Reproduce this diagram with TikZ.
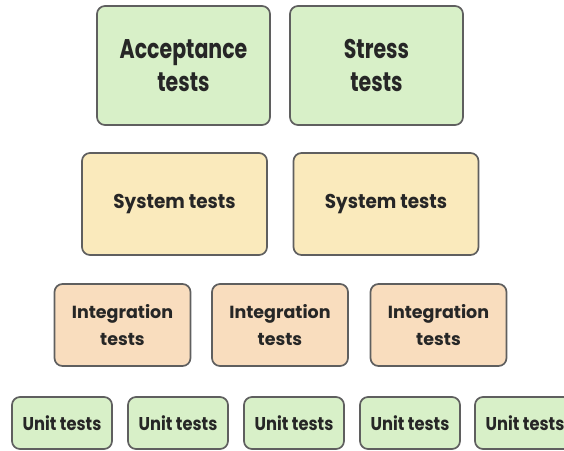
\documentclass[tikz,border=0pt]{standalone}
\usepackage{fontspec}
\setmainfont{Poppins}
\newfontfamily\topfont{Poppins}[FakeStretch=0.76]
\newfontfamily\sysfont{Poppins}[FakeStretch=0.92]
\newfontfamily\unitfont{Poppins}[FakeStretch=0.88]

\definecolor{topgreen}{RGB}{216,240,200}
\definecolor{sysyellow}{RGB}{250,234,188}
\definecolor{intpeach}{RGB}{249,221,190}
\definecolor{edgegray}{RGB}{95,95,95}

\begin{document}
\begin{tikzpicture}[x=1pt, y=-1pt,
    testbox/.style={draw=edgegray, line width=1.7pt, rounded corners=8pt,
      align=center, text=black!85, inner sep=0pt},
    toplevel/.style={testbox, fill=topgreen, minimum width=173pt, minimum height=119pt,
      font=\topfont\bfseries\fontsize{27}{33}\selectfont},
    syslevel/.style={testbox, fill=sysyellow, minimum width=185pt, minimum height=102pt,
      font=\sysfont\bfseries\fontsize{20}{25}\selectfont},
    intlevel/.style={testbox, fill=intpeach, minimum width=136pt, minimum height=82pt,
      font=\bfseries\fontsize{17.5}{27}\selectfont},
    unitlevel/.style={testbox, fill=topgreen, minimum width=100pt, minimum height=52pt,
      font=\unitfont\bfseries\fontsize{18.5}{22}\selectfont}]

  \clip (0,0) rectangle (564,450);
  \useasboundingbox (0,0) rectangle (564,450);

  % top of the pyramid
  \node[toplevel] (accept) at (183.5,65.5) {Acceptance\\tests};
  \node[toplevel] (stress) at (376.5,65.5) {Stress\\tests};

  % system level
  \node[syslevel] (system1) at (174.5,204) {System tests};
  \node[syslevel] (system2) at (386,204) {System tests};

  % integration level
  \node[intlevel] (integ1) at (122.5,325) {Integration\\tests};
  \node[intlevel] (integ2) at (280,325) {Integration\\tests};
  \node[intlevel] (integ3) at (438.5,325) {Integration\\tests};

  % unit tests at the bottom, cut by the page edge
  \foreach \i/\x in {1/62,2/178,3/294,4/410,5/525}{
    \node[unitlevel] (unit\i) at (\x,423) {Unit tests};
  }

\end{tikzpicture}
\end{document}
